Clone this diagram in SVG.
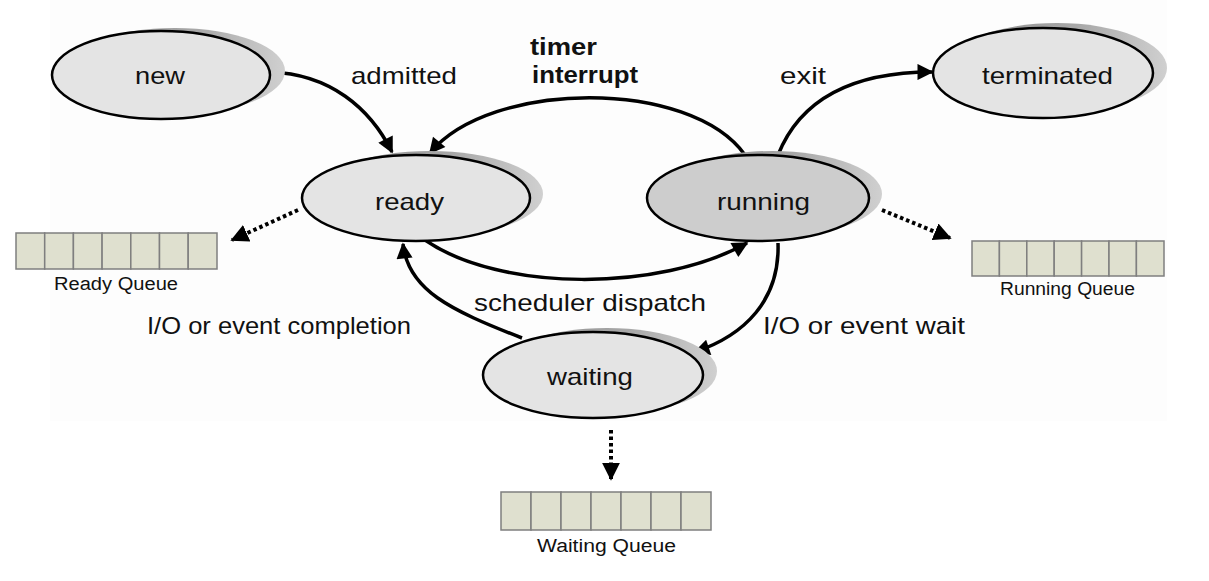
<svg xmlns="http://www.w3.org/2000/svg" width="1209" height="581" viewBox="0 0 1209 581">
<defs>
<linearGradient id="sh" x1="0" y1="0" x2="1" y2="0">
<stop offset="0" stop-color="#8a8a8a"/>
<stop offset="0.6" stop-color="#a8a8a8"/>
<stop offset="1" stop-color="#d0d0d0"/>
</linearGradient>
<marker id="ah" viewBox="0 0 10 10" refX="9" refY="5" markerWidth="6" markerHeight="4.6" orient="auto" markerUnits="strokeWidth">
<path d="M0,0 L10,5 L0,10 z" fill="#000"/>
</marker>
<marker id="ad" viewBox="0 0 10 10" refX="9" refY="5" markerWidth="4.5" markerHeight="4.5" orient="auto" markerUnits="strokeWidth">
<path d="M0,0 L10,5 L0,10 z" fill="#000"/>
</marker>
</defs>
<style>
.shadow{fill:url(#sh);stroke:none}
.node{fill:#e4e4e4;stroke:#000;stroke-width:2.5}
.run{fill:#cdcdcd}
.lbl{font-family:"Liberation Sans",Arial,sans-serif;font-size:24px;fill:#111}
.b{font-weight:bold}
.q{font-family:"Liberation Sans",Arial,sans-serif;font-size:18px;fill:#111}
.edge{fill:none;stroke:#000;stroke-width:3.5;marker-end:url(#ah)}
.dot{fill:none;stroke:#000;stroke-width:4;stroke-dasharray:3.5 3;marker-end:url(#ad)}
.cell{fill:#dfe0cf;stroke:#7f7f7f;stroke-width:1.5}
</style>
<rect x="0" y="0" width="1209" height="581" fill="#fff"/>
<rect x="50" y="0" width="1117" height="421" fill="#fdfdfd"/>

<g id="connectors">
<path class="edge" d="M270,72 C330,74 370,108 392,152"/>
<path class="edge" d="M745,155 C690,78 490,80 430,153"/>
<path class="edge" d="M778,155 C800,100 850,72 932,72"/>
<path class="edge" d="M425,240 C500,292 660,292 747,243"/>
<path class="edge" d="M778,243 C780,300 745,335 695,352"/>
<path class="edge" d="M522,338 C450,310 408,290 403,244"/>
<path class="dot" d="M298,210 L232,240"/>
<path class="dot" d="M882,210 L950,238"/>
<path class="dot" d="M611,430 L611,479"/>
</g>

<g id="new">
<ellipse class="shadow" cx="175" cy="71" rx="110" ry="43"/>
<ellipse class="node" cx="161" cy="75" rx="109" ry="44"/>
<text class="lbl" x="135" y="84" textLength="50" lengthAdjust="spacingAndGlyphs">new</text>
</g>

<g id="ready">
<ellipse class="shadow" cx="430" cy="194" rx="113" ry="43"/>
<ellipse class="node" cx="416" cy="198" rx="114" ry="43"/>
<text class="lbl" x="375" y="210" textLength="69" lengthAdjust="spacingAndGlyphs">ready</text>
</g>

<g id="running">
<ellipse class="shadow" cx="772" cy="194" rx="110" ry="43"/>
<ellipse class="node run" cx="758" cy="198" rx="111" ry="43"/>
<text class="lbl" x="717" y="210" textLength="93" lengthAdjust="spacingAndGlyphs">running</text>
</g>

<g id="terminated">
<ellipse class="shadow" cx="1057" cy="68" rx="110" ry="45"/>
<ellipse class="node" cx="1043" cy="73" rx="110" ry="45"/>
<text class="lbl" x="982" y="84" textLength="131" lengthAdjust="spacingAndGlyphs">terminated</text>
</g>

<g id="waiting">
<ellipse class="shadow" cx="607" cy="371" rx="110" ry="43"/>
<ellipse class="node" cx="593" cy="375" rx="110" ry="43"/>
<text class="lbl" x="547" y="385" textLength="86" lengthAdjust="spacingAndGlyphs">waiting</text>
</g>

<g id="labels">
<text class="lbl" x="351" y="84" textLength="106" lengthAdjust="spacingAndGlyphs">admitted</text>
<text class="lbl b" x="530" y="55" textLength="67" lengthAdjust="spacingAndGlyphs">timer</text>
<text class="lbl b" x="532" y="83" textLength="106" lengthAdjust="spacingAndGlyphs">interrupt</text>
<text class="lbl" x="780" y="84" textLength="46" lengthAdjust="spacingAndGlyphs">exit</text>
<text class="lbl" x="474" y="311" textLength="232" lengthAdjust="spacingAndGlyphs">scheduler dispatch</text>
<text class="lbl" x="147" y="334" textLength="264" lengthAdjust="spacingAndGlyphs">I/O or event completion</text>
<text class="lbl" x="763" y="334" textLength="202" lengthAdjust="spacingAndGlyphs">I/O or event wait</text>
</g>

<g id="ready-queue">
<rect class="cell" x="16" y="233" width="28.7" height="36"/>
<rect class="cell" x="44.7" y="233" width="28.7" height="36"/>
<rect class="cell" x="73.4" y="233" width="28.7" height="36"/>
<rect class="cell" x="102.1" y="233" width="28.7" height="36"/>
<rect class="cell" x="130.8" y="233" width="28.7" height="36"/>
<rect class="cell" x="159.5" y="233" width="28.7" height="36"/>
<rect class="cell" x="188.2" y="233" width="28.8" height="36"/>
<text class="q" x="54" y="290" textLength="124" lengthAdjust="spacingAndGlyphs">Ready Queue</text>
</g>

<g id="running-queue">
<rect class="cell" x="972" y="241" width="27.4" height="35"/>
<rect class="cell" x="999.4" y="241" width="27.4" height="35"/>
<rect class="cell" x="1026.8" y="241" width="27.4" height="35"/>
<rect class="cell" x="1054.2" y="241" width="27.4" height="35"/>
<rect class="cell" x="1081.6" y="241" width="27.4" height="35"/>
<rect class="cell" x="1109" y="241" width="27.4" height="35"/>
<rect class="cell" x="1136.4" y="241" width="27.6" height="35"/>
<text class="q" x="1000" y="295" textLength="135" lengthAdjust="spacingAndGlyphs">Running Queue</text>
</g>

<g id="waiting-queue">
<rect class="cell" x="501" y="492" width="30" height="38"/>
<rect class="cell" x="531" y="492" width="30" height="38"/>
<rect class="cell" x="561" y="492" width="30" height="38"/>
<rect class="cell" x="591" y="492" width="30" height="38"/>
<rect class="cell" x="621" y="492" width="30" height="38"/>
<rect class="cell" x="651" y="492" width="30" height="38"/>
<rect class="cell" x="681" y="492" width="30" height="38"/>
<text class="q" x="537" y="552" textLength="139" lengthAdjust="spacingAndGlyphs">Waiting Queue</text>
</g>
</svg>
